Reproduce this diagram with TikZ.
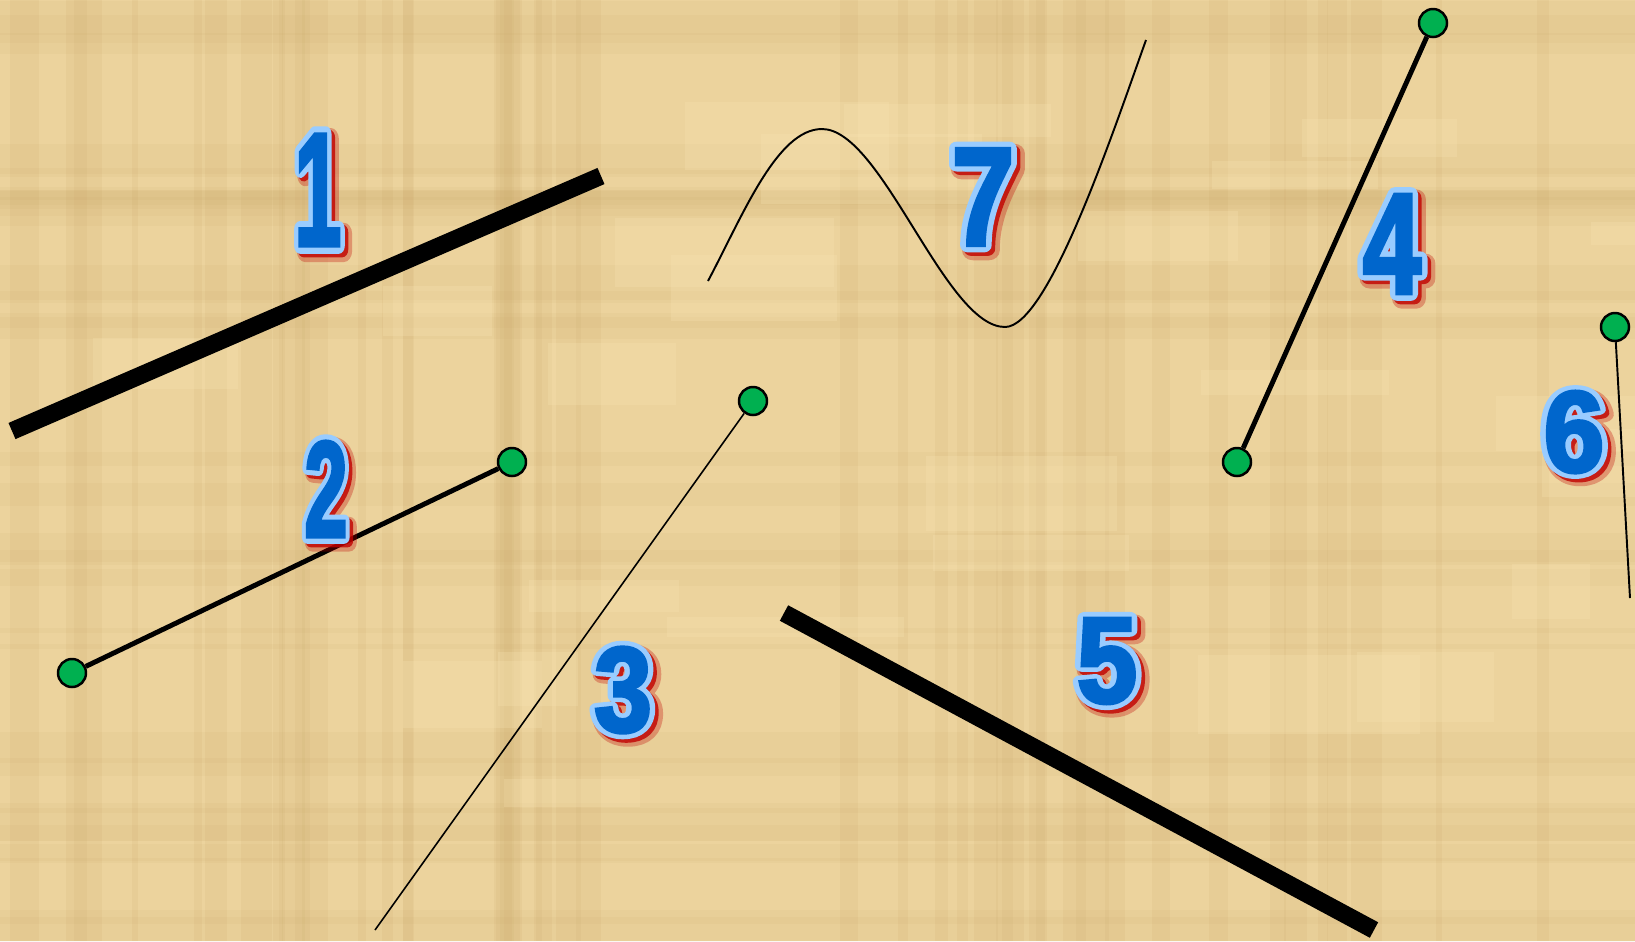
\documentclass[tikz,border=0pt]{standalone}
\usepackage{graphicx}
\usepackage{fontspec}
\newfontfamily\digitfamily{Liberation Sans Bold}[FakeStretch=0.72, FakeBold=2.5]
\newfontfamily\rimfamily{Liberation Sans Bold}[FakeStretch=0.72, FakeBold=10]
\newfontfamily\glowfamily{Liberation Sans Bold}[FakeStretch=0.72, FakeBold=14]
\usetikzlibrary{calc}

\definecolor{papyrus}{HTML}{ECD39D}
\definecolor{papyrusdark}{HTML}{C4A160}
\definecolor{papyruslight}{HTML}{FAE6B4}
\definecolor{dotgreen}{HTML}{00B050}
\definecolor{numblue}{HTML}{0066CC}
\definecolor{numedge}{HTML}{99CCFF}
\definecolor{numred}{HTML}{C00000}

\newcommand{\numsize}[1]{\fontsize{#1}{#1}\selectfont}
% #1 name, #2 centre (px), #3 size (pt), #4 horizontal scale, #5 digit
\newcommand{\bignumber}[5]{%
  \node[numglow, font=\glowfamily\numsize{#3}] at ($(#2)+(5,5)$) {\scalebox{#4}[1]{#5}};
  \node[numshadow, font=\rimfamily\numsize{#3}] at ($(#2)+(3.5,3.5)$) {\scalebox{#4}[1]{#5}};
  \node[numrim, font=\rimfamily\numsize{#3}] at (#2) {\scalebox{#4}[1]{#5}};
  \node[numcore, font=\digitfamily\numsize{#3}] (#1) at (#2) {\scalebox{#4}[1]{#5}};
}

\begin{document}
\begin{tikzpicture}[x=0.01cm, y=-0.01cm,
  dot/.style={circle, draw=black, line width=0.7pt, fill=dotgreen, minimum size=0.28cm, inner sep=0pt},
  heavy/.style={line width=5pt},
  medium/.style={line width=1.4pt},
  hair/.style={line width=0.55pt},
  numglow/.style={text=numred, text opacity=0.3, inner sep=0pt, line join=round},
  numshadow/.style={text=numred, text opacity=0.8, inner sep=0pt, line join=round},
  numrim/.style={text=numedge, inner sep=0pt, line join=round},
  numcore/.style={text=numblue, inner sep=0pt, line join=miter, miter limit=4}]

% ---------- papyrus background ----------
\fill[papyrus] (0,0) rectangle (1635,941);
\useasboundingbox (0,0) rectangle (1635,941);
\pgfmathsetseed{11}
\foreach \i in {1,...,45} {
  \pgfmathsetmacro{\xa}{rnd*1635}
  \pgfmathsetmacro{\wa}{4+rnd*30}
  \fill[papyrusdark, opacity=0.10] (\xa,0) rectangle ++(\wa,941);
}
\foreach \i in {1,...,30} {
  \pgfmathsetmacro{\ya}{rnd*941}
  \pgfmathsetmacro{\ha}{4+rnd*35}
  \fill[papyrusdark, opacity=0.08] (0,\ya) rectangle ++(1635,\ha);
}
\foreach \i in {1,...,25} {
  \pgfmathsetmacro{\xa}{rnd*1635}
  \pgfmathsetmacro{\ya}{rnd*941}
  \fill[papyruslight, opacity=0.25] (\xa,\ya) rectangle ++(60+rnd*200,20+rnd*60);
}

% ---------- 1: thick segment ----------
\coordinate (s1a) at (12,431);
\coordinate (s1b) at (601,176);
\draw[heavy] (s1a) -- (s1b);

% ---------- 2: segment with two end points ----------
\node[dot] (s2a) at (72,673) {};
\node[dot] (s2b) at (512,462) {};
\draw[medium] (s2a) -- (s2b);

% ---------- 3: ray ----------
\coordinate (s3a) at (375,930);
\node[dot] (s3b) at (753,401) {};
\draw[line width=0.45pt] (s3a) -- (s3b);

% ---------- 4: segment with two end points ----------
\node[dot] (s4a) at (1237,462) {};
\node[dot] (s4b) at (1433,23) {};
\draw[medium] (s4a) -- (s4b);

% ---------- 5: thick segment ----------
\coordinate (s5a) at (784,613);
\coordinate (s5b) at (1374,930);
\draw[heavy] (s5a) -- (s5b);

% ---------- 6: ray ----------
\node[dot] (s6a) at (1615,327) {};
\coordinate (s6b) at (1630,598);
\draw[hair] (s6a) -- (s6b);

% ---------- 7: curve ----------
\coordinate (c7a) at (708,281);
\coordinate (c7b) at (822,129);
\coordinate (c7c) at (1005,327);
\coordinate (c7d) at (1146,40);
\draw[hair] (c7a) .. controls (743,215) and (777,129) .. (c7b)
  .. controls (882,129) and (945,327) .. (c7c)
  .. controls (1048,327) and (1112,135) .. (c7d);

% ---------- numbers ----------
\bignumber{n1}{318,190}{46pt}{0.72}{1}
\bignumber{n2}{326,489}{39pt}{0.78}{2}
\bignumber{n3}{623,690}{34.6pt}{1.18}{3}
\bignumber{n4}{1392,244}{41pt}{1.0}{4}
\bignumber{n5}{1107,661}{35pt}{1.22}{5}
\bignumber{n6}{1574,432}{33pt}{1.3}{6}
\bignumber{n7}{983,197}{40pt}{1.1}{7}

\end{tikzpicture}
\end{document}
